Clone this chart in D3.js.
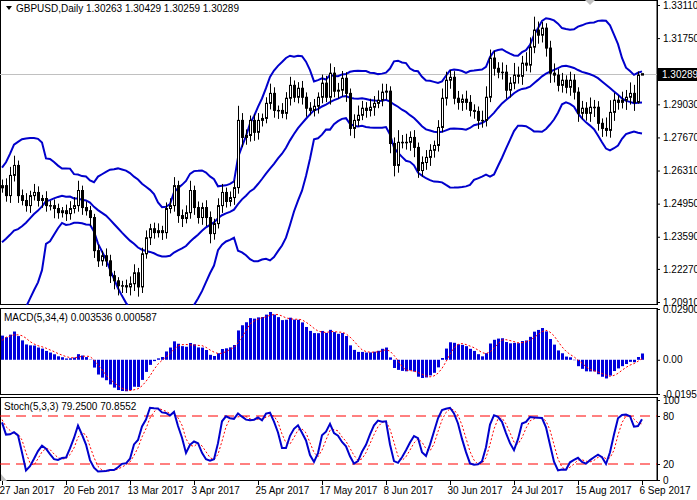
<!DOCTYPE html>
<html><head><meta charset="utf-8">
<script src="https://cdn.jsdelivr.net/npm/d3@7"></script>
<style>body{margin:0;background:#fff}svg{display:block}text{font-family:"Liberation Sans",Arial,sans-serif;font-size:10px;fill:#000}</style>
</head><body>
<svg id="c" width="697" height="500"></svg>
<script>
// ---- data ----
const histClose=[1.2440,1.2420,1.2410,1.2470,1.2440,1.2480,1.2500,1.2600,1.2730,1.2720,1.2700,1.2740,1.2680,1.2600,1.2580,1.2640,1.2700,1.2720,1.2700,1.2500,1.2420,1.2390,1.2350,1.2340,1.2290,1.2280,1.2260,1.2260,1.2280,1.2270,1.2350,1.2240,1.2290,1.2300,1.2410,1.2280,1.2190,1.2170,1.2190,1.2220,1.2170,1.2060,1.2400,1.2330,1.2340,1.2370,1.2530,1.2460,1.2650,1.2560];
const histHiW=[30,25,30,35,20,25,30,40,45,30,25,35,30,40,30,35,30,25,30,40,30,25,30,20,25,30,20,15,25,20,30,35,30,25,40,30,35,30,25,30,35,40,50,40,30,35,45,40,50,40];
const histLoW=[25,30,25,20,30,25,20,30,35,30,25,30,35,30,25,30,25,30,25,45,35,30,25,30,25,20,25,20,15,25,20,30,25,30,35,40,30,25,30,25,40,60,40,35,30,25,30,40,35,45];
const closes=[1.2569,1.2528,1.2611,1.2652,1.2528,1.2508,1.2487,1.2528,1.2541,1.2508,1.2516,1.2487,1.2487,1.2475,1.2458,1.2466,1.2454,1.2475,1.2487,1.2549,1.2479,1.2466,1.2438,1.2302,1.2260,1.2281,1.2260,1.2199,1.2178,1.2158,1.2158,1.2153,1.2166,1.2211,1.2153,1.2289,1.2355,1.2392,1.2376,1.2384,1.2376,1.2475,1.2487,
1.2569,1.2446,1.2434,1.2458,1.2549,1.2479,1.2438,1.2479,1.2438,1.2372,1.2413,1.2487,1.2541,1.2504,1.2520,1.2561,1.2837,1.2767,1.2775,1.2837,1.2788,1.2837,1.2845,1.2907,1.2948,1.2878,1.2878,1.2866,1.2928,1.2981,1.2932,1.2969,1.2932,1.2887,1.2878,1.2895,1.2932,1.2990,1.2932,1.3031,1.2957,1.2961,
1.3010,1.2948,1.2804,1.2837,1.2858,1.2887,1.2878,1.2891,1.2907,1.2920,1.2953,1.2957,1.2742,1.2652,1.2747,1.2747,1.2747,1.2767,1.2726,1.2631,1.2664,1.2685,1.2714,1.2734,1.2808,1.2928,1.3002,1.3014,1.2928,1.2911,1.2924,1.2911,1.2878,1.2874,1.2837,1.2837,1.2932,1.3093,1.3051,1.3035,1.3035,1.2961,1.2990,
1.3023,1.3018,1.3072,1.3064,1.3138,1.3208,1.3187,1.3216,1.3134,1.3031,1.3023,1.2981,1.3002,1.2973,1.3002,1.2953,1.2866,1.2887,1.2866,1.2891,1.2891,1.2825,1.2804,1.2796,1.2870,1.2920,1.2911,1.2920,1.2932,1.2948,1.2911,1.3023,1.30289];
const hiWick=[25,30,35,40,20,25,30,20,35,25,15,30,20,25,20,15,25,30,35,40,20,25,20,15,25,20,30,25,20,15,20,25,30,35,20,25,30,20,25,30,20,25,30,
35,20,25,30,40,20,25,20,30,25,20,30,35,20,25,30,60,30,25,20,25,30,20,25,40,25,20,30,25,35,20,25,30,20,25,30,20,35,30,40,25,30,
30,25,20,25,40,30,25,35,30,40,35,30,20,25,50,30,35,25,30,20,25,30,25,20,30,40,35,30,25,30,20,35,30,25,20,40,45,35,30,25,40,30,
25,50,35,30,45,40,55,35,25,20,30,40,25,30,20,35,25,20,30,25,40,30,25,20,45,50,30,20,35,30,45,35,15];
const loWick=[20,25,30,25,30,20,25,30,20,25,30,25,20,40,25,20,30,25,20,25,30,20,35,30,25,20,25,30,35,40,30,25,35,30,40,25,20,30,25,20,30,25,20,
25,30,35,20,25,30,25,30,35,40,25,20,30,25,20,30,25,40,30,25,35,30,25,20,25,30,35,20,25,30,20,25,30,35,20,25,30,25,20,30,25,30,
25,35,30,40,25,20,30,25,35,20,25,30,40,45,30,25,30,35,40,30,25,30,35,30,25,20,30,35,25,30,35,30,25,30,35,30,25,20,30,25,30,35,
30,25,30,35,25,30,25,35,30,35,40,30,25,30,25,35,30,35,25,30,35,40,30,35,25,30,35,30,25,40,30,35,5];
const dateLabels=["27 Jan 2017","20 Feb 2017","13 Mar 2017","3 Apr 2017","25 Apr 2017","17 May 2017","8 Jun 2017","30 Jun 2017","24 Jul 2017","15 Aug 2017","6 Sep 2017"];
const dateIdx=[0,16,32,48,64,80,96,112,128,144,160];
const priceTicks=[1.33110,1.31750,1.29030,1.27670,1.26310,1.24950,1.23590,1.22270,1.20910];
const macdTicks=[0.029002,0,-0.01955];
const stochTicks=[100,80,20,0];
const lastPrice=1.30289;
const title="GBPUSD,Daily 1.30263 1.30429 1.30259 1.30289";
const macdTitle="MACD(5,34,4) 0.003536 0.000587";
const stochTitle="Stoch(5,3,3) 79.2500 70.8552";

// ---- build OHLC ----
const allC=histClose.concat(closes), allHW=histHiW.concat(hiWick), allLW=histLoW.concat(loWick);
const H=histClose.length;
const bars=allC.map((c,i)=>{const o=i?allC[i-1]:c;return{o,c,h:Math.max(o,c)+allHW[i]*1e-4,l:Math.min(o,c)-allLW[i]*1e-4};});
const bb=bars.map((b,i)=>{if(i<19)return null;const s=allC.slice(i-19,i+1);const m=d3.mean(s);const sd=Math.sqrt(d3.mean(s,v=>(v-m)*(v-m)));return{m,u:m+2*sd,d:m-2*sd};});
function ema(p){const k=2/(p+1);let e=allC[0];return allC.map(c=>e=e+(c-e)*k);}
const e5=ema(5),e34=ema(34);const macd=allC.map((c,i)=>e5[i]-e34[i]);
const sig=macd.map((v,i)=>i<3?v:d3.mean(macd.slice(i-3,i+1)));
const hh=[],ll=[];bars.forEach((b,i)=>{const s=bars.slice(Math.max(0,i-4),i+1);hh.push(d3.max(s,d=>d.h));ll.push(d3.min(s,d=>d.l));});
const K=bars.map((b,i)=>{let a=0,z=0;for(let j=Math.max(0,i-2);j<=i;j++){a+=allC[j]-ll[j];z+=hh[j]-ll[j];}return z?100*a/z:50;});
const D=K.map((v,i)=>d3.mean(K.slice(Math.max(0,i-2),i+1)));

// ---- scales ----
const svg=d3.select("#c");
const AX=657;
const x=d3.scaleLinear().domain([0,160]).range([2,642]);
const y=d3.scaleLinear().domain([1.2091,1.3311]).range([302,5]);
const ym=d3.scaleLinear().domain([-0.01955,0.029002]).range([394,309]);
const ys=d3.scaleLinear().domain([0,100]).range([480,400]);
const vis=d3.range(0,161);
const defs=svg.append("defs");
[["p1",0,305],["p2",308,395],["p3",397,481]].forEach(([id,a,b])=>defs.append("clipPath").attr("id",id).append("rect").attr("x",0).attr("y",a).attr("width",AX).attr("height",b-a));

[[0,305],[308,395],[397,481]].forEach(([a,b])=>svg.append("rect").attr("x",0.5).attr("y",a+0.5).attr("width",AX-0.5).attr("height",b-a-1).attr("fill","none").attr("stroke","#000"));

const g1=svg.append("g").attr("clip-path","url(#p1)");
g1.append("line").attr("x1",0).attr("x2",AX).attr("y1",Math.round(y(lastPrice))+0.5).attr("y2",Math.round(y(lastPrice))+0.5).attr("stroke","#c0c0c0");
["u","m","d"].forEach(k=>g1.append("path").datum(vis).attr("fill","none").attr("stroke","#0000cc").attr("stroke-width",2)
 .attr("d",d3.line().x(i=>x(i)).y(i=>y(bb[i+H][k]))));
vis.forEach(i=>{const b=bars[i+H];const cx=Math.round(x(i))+0.5;
 g1.append("line").attr("x1",cx).attr("x2",cx).attr("y1",y(b.h)).attr("y2",y(b.l)).attr("stroke","#000");
 const t=y(Math.max(b.o,b.c)),bt=y(Math.min(b.o,b.c));
 g1.append("rect").attr("x",cx-1).attr("y",t).attr("width",2).attr("height",Math.max(0.5,bt-t)).attr("fill",b.c>=b.o?"#fff":"#000").attr("stroke","#000");});
svg.append("path").attr("d","M585,0 L595,0 L590,5 Z").attr("fill","#c0c0c0");
svg.append("path").attr("d","M6,6 L12,6 L9,10 Z").attr("fill","#000");
svg.append("text").attr("x",16).attr("y",12).text(title);

const g2=svg.append("g").attr("clip-path","url(#p2)");
vis.forEach(i=>{const v=macd[i+H];g2.append("rect").attr("x",Math.round(x(i))-1).attr("width",3).attr("y",Math.min(ym(v),ym(0))).attr("height",Math.abs(ym(v)-ym(0))).attr("fill","#0000dd");});
g2.append("path").datum(vis).attr("fill","none").attr("stroke","#ff0000").attr("stroke-dasharray","2,2")
 .attr("d",d3.line().x(i=>x(i)).y(i=>ym(sig[i+H])));
svg.append("text").attr("x",4).attr("y",321).text(macdTitle);

const g3=svg.append("g").attr("clip-path","url(#p3)");
[80,20].forEach(v=>g3.append("line").attr("x1",0).attr("x2",AX).attr("y1",ys(v)).attr("y2",ys(v)).attr("stroke","#ff0000").attr("stroke-dasharray","10,6"));
g3.append("path").datum(vis).attr("fill","none").attr("stroke","#ff0000").attr("stroke-dasharray","2,2")
 .attr("d",d3.line().x(i=>x(i)).y(i=>ys(D[i+H])));
g3.append("path").datum(vis).attr("fill","none").attr("stroke","#0000cc").attr("stroke-width",2)
 .attr("d",d3.line().x(i=>x(i)).y(i=>ys(K[i+H])));
svg.append("text").attr("x",4).attr("y",410).text(stochTitle);
svg.append("path").attr("d","M1,474 L1,481 L7,481 Z").attr("fill","#c0c0c0");

function styleAx(g){g.select(".domain").attr("stroke","#000");g.selectAll(".tick line").attr("stroke","#000");g.selectAll("text").style("font-size","10px").attr("fill","#000");}
svg.append("g").attr("transform",`translate(${AX},0)`).call(d3.axisRight(y).tickValues(priceTicks).tickFormat(d3.format(".5f")).tickSize(3).tickPadding(3)).call(styleAx).select(".domain").attr("d","M0.5,0V305");
const ly=Math.round(y(lastPrice));
svg.append("rect").attr("x",AX+1).attr("y",ly-6).attr("width",40).attr("height",13).attr("fill","#000");
svg.append("text").attr("x",AX+5).attr("y",ly+4).style("fill","#fff").text(lastPrice.toFixed(5));
svg.append("g").attr("transform",`translate(${AX},0)`).call(d3.axisRight(ym).tickValues(macdTicks).tickFormat(v=>v===0?"0.00":String(v)).tickSize(3).tickPadding(3)).call(styleAx).select(".domain").attr("d","M0.5,308V395");
svg.append("g").attr("transform",`translate(${AX},0)`).call(d3.axisRight(ys).tickValues(stochTicks).tickSize(3).tickPadding(3)).call(styleAx).select(".domain").attr("d","M0.5,397V481");
const xa=svg.append("g").attr("transform","translate(0,481)").call(d3.axisBottom(x).tickValues(dateIdx).tickFormat((d,i)=>dateLabels[i]).tickSize(4).tickPadding(2)).call(styleAx);
xa.select(".domain").remove();
xa.selectAll("text").attr("text-anchor","start").attr("dx","-3");
</script></body></html>
